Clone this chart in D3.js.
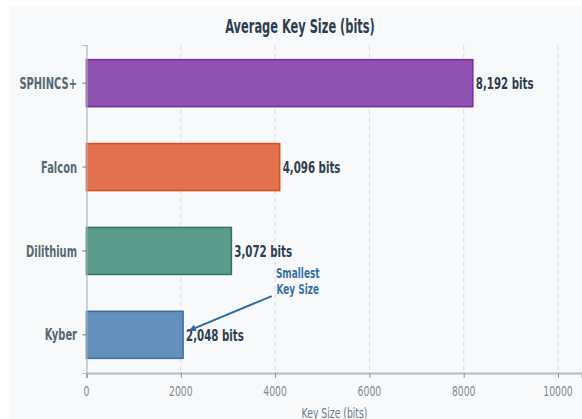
<!DOCTYPE html>
<html>
<head>
<meta charset="utf-8">
<script src="https://cdn.jsdelivr.net/npm/d3@7"></script>
<style>
  html, body { margin: 0; padding: 0; background: #ffffff; }
  svg { display: block; }
  text { font-family: "DejaVu Sans", sans-serif; }
</style>
</head>
<body>
<svg id="chart" width="582" height="419"></svg>
<script>
// Data
const categories = ["SPHINCS+", "Falcon", "Dilithium", "Kyber"];
const keySizes = [8192, 4096, 3072, 2048];
const valueLabels = ["8,192 bits", "4,096 bits", "3,072 bits", "2,048 bits"];
const fillColors = ["#8e52b0", "#e27150", "#5a9b8c", "#6490be"];
const edgeColors = ["#7a2fa0", "#d9501f", "#2f7a66", "#3d70a3"];
const xTicks = [0, 2000, 4000, 6000, 8000, 10000];
const chartTitle = "Average Key Size (bits)";
const xAxisTitle = "Key Size (bits)";
const noteLines = ["Smallest", "Key Size"];
const noteTextAt = [4480, "Kyber", -0.64];   // value, category, offset in bands
const noteArrowTo = [2170, "Kyber", -0.05];

// Horizontal compression of glyphs
const SX = 0.64;

const svg = d3.select("#chart");
const W = 582, H = 419;

// Figure panel
svg.append("rect").attr("x", 10).attr("y", 6).attr("width", W - 10).attr("height", H - 6)
  .attr("fill", "#f8f9fa");

const plot = { left: 86.5, right: 581.6, top: 45, bottom: 373 };

const x = d3.scaleLinear().domain([0, 10500]).range([plot.left, plot.right]);
const y = d3.scaleBand().domain(categories).range([plot.top, plot.bottom])
  .paddingInner(0.44).paddingOuter(0.175);
const yc = (cat, off) => y(cat) + y.bandwidth() / 2 + off * y.step();

function label(g, px, py, str, opts) {
  return g.append("text")
    .attr("transform", `translate(${px},${py}) scale(${opts.sx || SX},1)`)
    .attr("text-anchor", opts.anchor || "start")
    .attr("dy", opts.dy || "0")
    .attr("font-size", opts.size)
    .attr("font-weight", opts.weight || "normal")
    .attr("fill", opts.color)
    .text(str);
}

// Vertical grid
svg.append("g").selectAll("line").data(xTicks.filter(d => d > 0)).join("line")
  .attr("x1", d => x(d)).attr("x2", d => x(d))
  .attr("y1", plot.top).attr("y2", plot.bottom)
  .attr("stroke", "#d9dcdf").attr("stroke-width", 1).attr("stroke-dasharray", "5,3");

// Bars
svg.append("g").selectAll("rect").data(categories).join("rect")
  .attr("x", x(0))
  .attr("y", d => y(d))
  .attr("width", (d, i) => x(keySizes[i]) - x(0))
  .attr("height", y.bandwidth())
  .attr("fill", (d, i) => fillColors[i])
  .attr("stroke", (d, i) => edgeColors[i])
  .attr("stroke-width", 1.6);

// Axes
const xAxis = svg.append("g").attr("transform", `translate(0,${plot.bottom})`)
  .call(d3.axisBottom(x).tickValues(xTicks).tickSize(5).tickFormat(""));
xAxis.select(".domain").attr("stroke", "#b4bec6").attr("stroke-width", 2);
xAxis.selectAll(".tick line").attr("stroke", "#8a959e");
xTicks.forEach(t => label(svg, x(t), 396, String(t), { anchor: "middle", size: 14.5, color: "#7f8a93" }));

const yAxis = svg.append("g").attr("transform", `translate(${plot.left},0)`)
  .call(d3.axisLeft(y).tickSize(4).tickFormat(""));
yAxis.select(".domain").attr("stroke", "#b0b6bb").attr("stroke-width", 1.2);
yAxis.selectAll(".tick line").attr("stroke", "#6b7a85");
categories.forEach(c => label(svg, 77, yc(c, 0), c,
  { anchor: "end", dy: "0.36em", size: 15.5, weight: "bold", color: "#566873" }));

// Value labels
categories.forEach((c, i) => label(svg, x(keySizes[i]) + 3, yc(c, 0), valueLabels[i],
  { dy: "0.36em", size: 16, weight: "bold", color: "#2c3e50" }));

// Annotation
const tx = x(noteTextAt[0]), ty = yc(noteTextAt[1], noteTextAt[2]);
const ax = x(noteArrowTo[0]), ay = yc(noteArrowTo[1], noteArrowTo[2]);
noteLines.forEach((s, k) => label(svg, tx, ty + (k - 0.5) * 15.5, s,
  { anchor: "middle", dy: "0.36em", size: 14, weight: "bold", color: "#3571a9" }));
const sx0 = tx - 26, sy0 = ty + 15;
svg.append("line").attr("x1", sx0).attr("y1", sy0).attr("x2", ax).attr("y2", ay)
  .attr("stroke", "#2f6ba3").attr("stroke-width", 2);
const ang = Math.atan2(ay - sy0, ax - sx0);
const hl = 7, hw = 3.5;
const pts = [
  [ax, ay],
  [ax - hl * Math.cos(ang) + hw * Math.sin(ang), ay - hl * Math.sin(ang) - hw * Math.cos(ang)],
  [ax - hl * Math.cos(ang) - hw * Math.sin(ang), ay - hl * Math.sin(ang) + hw * Math.cos(ang)]
];
svg.append("path").attr("d", d3.line()(pts) + "Z").attr("fill", "#2f6ba3");

// Titles
label(svg, 300, 33, chartTitle, { anchor: "middle", size: 19, weight: "bold", color: "#2c3e50", sx: 0.6 });
label(svg, 334.5, 418, xAxisTitle, { anchor: "middle", size: 14.5, color: "#6d7b86" });
</script>
</body>
</html>
